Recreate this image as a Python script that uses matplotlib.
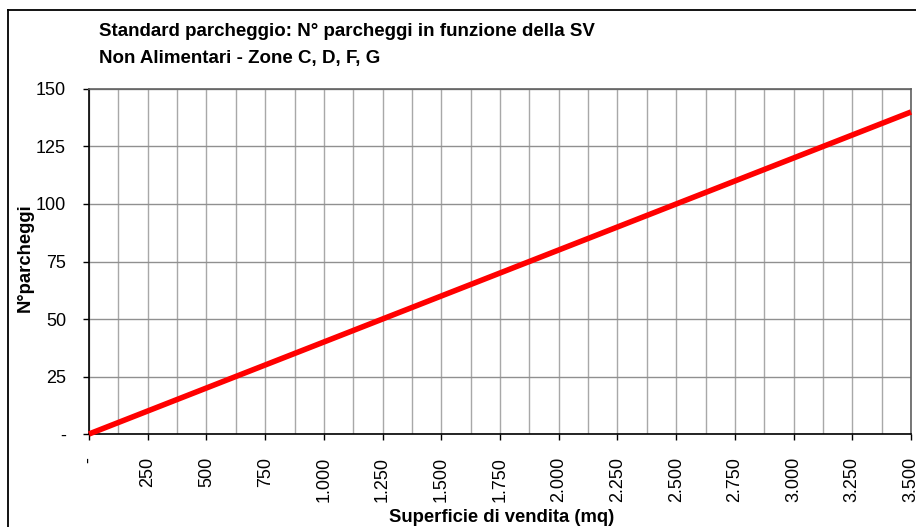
import matplotlib.pyplot as plt
from matplotlib.lines import Line2D
from matplotlib.ticker import FuncFormatter, MultipleLocator

plt.rcParams['font.family'] = ['Liberation Sans', 'DejaVu Sans']

# superficie di vendita (mq) vs numero parcheggi
sv = [0, 250, 500, 750, 1000, 1250, 1500, 1750, 2000, 2250, 2500, 2750, 3000, 3250, 3500]
parcheggi = [0, 10, 20, 30, 40, 50, 60, 70, 80, 90, 100, 110, 120, 130, 140]

title_lines = ['Standard parcheggio: N° parcheggi in funzione della SV',
               'Non Alimentari - Zone C, D, F, G']

W, H = 916, 527
fig = plt.figure(figsize=(W / 100, H / 100), dpi=100)

# outer chart frame (runs off the right/bottom of the image)
fig.add_artist(Line2D([8 / W, 8 / W], [1 - 10 / H, 0], color='black', lw=1.3))
fig.add_artist(Line2D([8 / W, 1], [1 - 10 / H, 1 - 10 / H], color='black', lw=1.3))

left, right, top, bottom = 89, 911, 89, 434
ax = fig.add_axes([left / W, 1 - bottom / H, (right - left) / W, (bottom - top) / H])

ax.plot(sv, parcheggi, color='#ff0000', lw=4, solid_capstyle='butt', zorder=3, clip_on=False)

ax.set_xlim(0, 3500)
ax.set_ylim(0, 150)
ax.xaxis.set_major_locator(MultipleLocator(250))
ax.xaxis.set_minor_locator(MultipleLocator(125))
ax.yaxis.set_major_locator(MultipleLocator(25))


def fmt(v, pos):
    if abs(v) < 1e-9:
        return '-'
    return f'{v:,.0f}'.replace(',', '.')


ax.xaxis.set_major_formatter(FuncFormatter(fmt))
ax.yaxis.set_major_formatter(FuncFormatter(fmt))

ax.grid(True, which='both', axis='x', color='#a8a8a8', lw=1)
ax.grid(True, which='major', axis='y', color='#909090', lw=1)
ax.set_axisbelow(True)

ax.tick_params(axis='both', which='major', direction='out', length=4.5, width=1,
               labelsize=13, colors='black')
ax.tick_params(axis='x', which='minor', length=0)
ax.tick_params(axis='x', pad=12)
ax.tick_params(axis='y', pad=12)
plt.setp(ax.get_xticklabels(), rotation=90, va='top', ha='center')

for s in ['left', 'bottom']:
    ax.spines[s].set_color('black')
    ax.spines[s].set_linewidth(1.2)
for s in ['top', 'right']:
    ax.spines[s].set_color('#606060')
    ax.spines[s].set_linewidth(1.2)

fig.text(99 / W, 1 - 32 / H, title_lines[0], fontsize=13.5, fontweight='bold', va='center')
fig.text(99 / W, 1 - 59 / H, title_lines[1], fontsize=13.5, fontweight='bold', va='center')

fig.text(502 / W, 1 - 517 / H, 'Superficie di vendita (mq)', fontsize=13.3,
         fontweight='bold', ha='center', va='center')
fig.text(25 / W, 1 - 258 / H, 'N°parcheggi', fontsize=13.3, fontweight='bold',
         ha='center', va='center', rotation=90)

fig.savefig('out.png', dpi=100)
